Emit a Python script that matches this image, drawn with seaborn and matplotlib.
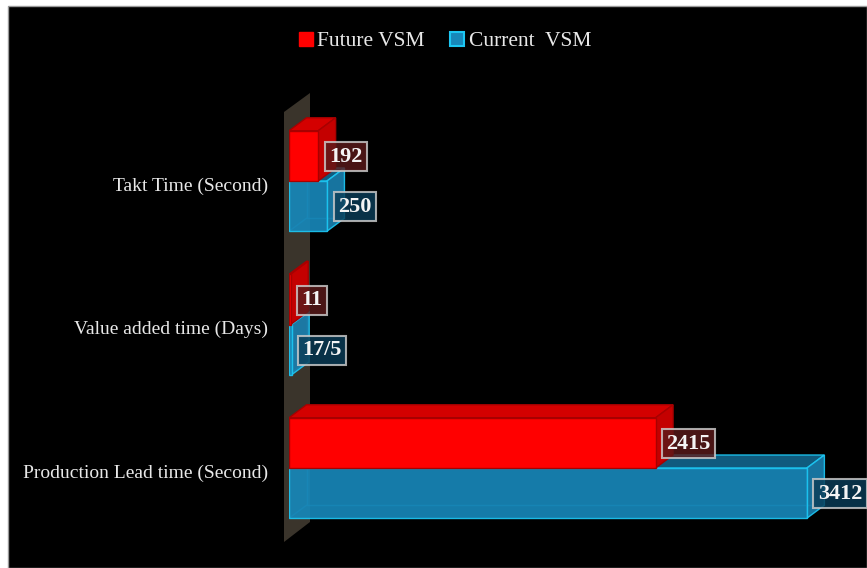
import numpy as np
import pandas as pd
import matplotlib
matplotlib.use("Agg")
import matplotlib.pyplot as plt
import matplotlib.transforms as mtransforms
import seaborn as sns
from matplotlib.patches import Polygon, Rectangle, Patch

# ---------------- data ----------------
categories = ["Takt Time (Second)", "Value added time (Days)", "Production Lead time (Second)"]
series = ["Future VSM", "Current  VSM"]
future_values = [192, 11, 2415]
current_values = [250, 17.5, 3412]
future_labels = ["192", "11", "2415"]
current_labels = ["250", "17/5", "3412"]

# ---------------- style ----------------
W, H = 867, 568
sns.set_style("dark")
plt.rcParams['font.family'] = ['Liberation Serif', 'DejaVu Serif']

RED_FRONT, RED_TOP, RED_SIDE, RED_EDGE = '#ff0000', '#d40000', '#c40000', '#a80000'
BLUE_FRONT, BLUE_TOP, BLUE_SIDE, BLUE_EDGE = '#1787b9', '#12648a', '#1a7fae', '#1cc6f2'
WALL = '#3a342b'

df = pd.DataFrame({
    "category": categories * 2,
    "series": [series[0]] * len(categories) + [series[1]] * len(categories),
    "value": future_values + current_values,
})

fig = plt.figure(figsize=(W / 100, H / 100), dpi=100, facecolor='white')
fig.patches.append(Rectangle((7.5 / W, 0), 1 - 7.5 / W, 1 - 6 / H, transform=fig.transFigure,
                             facecolor='black', edgecolor='#9a9a9a', lw=1, zorder=-10))

# back wall (decoration)
wall_px = [(284, 112), (310, 93), (310, 522), (284, 542)]
fig.patches.append(Polygon([(x / W, 1 - y / H) for x, y in wall_px], closed=True,
                           transform=fig.transFigure, facecolor=WALL, edgecolor='none', zorder=-5))

x0px = 289
xmax = 3808
top_px, bot_px = 109.25, 539.75
ax = fig.add_axes([x0px / W, (H - bot_px) / H, (W - x0px) / W, (bot_px - top_px) / H])
ax.set_facecolor('none')

sns.barplot(data=df, y='category', x='value', hue='series', hue_order=series, order=categories,
            orient='h', width=0.7, palette={series[0]: RED_FRONT, series[1]: BLUE_FRONT},
            saturation=1, errorbar=None, legend=False, ax=ax)

ax.set_xlim(0, xmax)
ax.set_ylim(2.5, -0.5)

sx = (W - x0px) / xmax          # px per x unit
sy = (bot_px - top_px) / 3.0    # px per y unit
dx = 17.5 / sx
dy = -13 / sy

def box3d(rect, front, top, side, edge, z, alpha, back_edges=False):
    x0 = rect.get_x()
    x1 = x0 + rect.get_width()
    yt = rect.get_y()
    yb = yt + rect.get_height()
    rect.set_facecolor(front)
    rect.set_edgecolor(edge)
    rect.set_linewidth(1.0)
    rect.set_alpha(alpha)
    rect.set_zorder(z + 0.2)
    if back_edges:
        ax.plot([x0 + dx, x0 + dx, x1 + dx], [yt + dy, yb + dy, yb + dy], color=edge, lw=1.0,
                alpha=0.55, zorder=z)
        ax.plot([x0, x0 + dx], [yb, yb + dy], color=edge, lw=1.0, alpha=0.55, zorder=z)
    ax.add_patch(Polygon([(x0, yt), (x0 + dx, yt + dy), (x1 + dx, yt + dy), (x1, yt)], closed=True,
                         facecolor=top, edgecolor=edge, lw=1.0, alpha=alpha, zorder=z + 0.1))
    ax.add_patch(Polygon([(x1, yt), (x1 + dx, yt + dy), (x1 + dx, yb + dy), (x1, yb)], closed=True,
                         facecolor=side, edgecolor=edge, lw=1.0, alpha=alpha, zorder=z + 0.1))

for rect in ax.containers[1]:
    box3d(rect, BLUE_FRONT, BLUE_TOP, BLUE_SIDE, BLUE_EDGE, 2, 0.92, back_edges=True)
for rect in ax.containers[0]:
    box3d(rect, RED_FRONT, RED_TOP, RED_SIDE, RED_EDGE, 3, 1.0)

def add_labels(container, labels, fc):
    for rect, lab in zip(container, labels):
        x1 = rect.get_x() + rect.get_width()
        yc = rect.get_y() + rect.get_height() / 2
        ax.text(x1 + 11 / sx, yc + 0.005, lab, ha='left', va='center', fontsize=16, fontweight='bold',
                color='#f4f4f4', zorder=6, clip_on=False,
                bbox=dict(boxstyle='square,pad=0.2', facecolor=fc, edgecolor=(0.8, 0.8, 0.8, 0.75),
                          linewidth=1.5, alpha=0.82))

add_labels(ax.containers[0], future_labels, '#5a1a1a')
add_labels(ax.containers[1], current_labels, '#0b3d57')

ax.grid(False)
for s in ax.spines.values():
    s.set_visible(False)
ax.set_xlabel('')
ax.set_ylabel('')
ax.set_xticks([])
ax.tick_params(axis='y', length=0, pad=15, labelsize=14, labelcolor='#e8e8e8')
shift = mtransforms.ScaledTranslation(0, -3 / 100, fig.dpi_scale_trans)
for lab in ax.get_yticklabels():
    lab.set_transform(lab.get_transform() + shift)

handles = [Patch(facecolor=RED_FRONT, edgecolor=RED_FRONT),
           Patch(facecolor=BLUE_FRONT, edgecolor=BLUE_EDGE, linewidth=1.5)]
fig.legend(handles, series, loc='center', bbox_to_anchor=(445 / W, 1 - 41.5 / H), ncol=2,
           frameon=False, fontsize=15.5, labelcolor='#e8e8e8', handlelength=0.65,
           handleheight=0.65, handletextpad=0.2, columnspacing=1.2)

fig.savefig('out.png', dpi=100, facecolor=fig.get_facecolor())
